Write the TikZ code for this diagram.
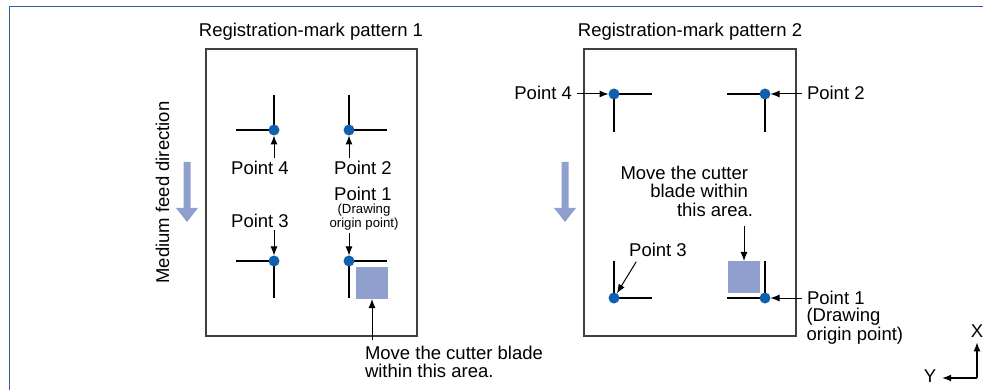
\documentclass[tikz,border=0pt]{standalone}
\usepackage{fontspec}
\setmainfont{Liberation Sans}
\usetikzlibrary{arrows.meta}
\definecolor{dotblue}{RGB}{16,96,176}
\definecolor{areablue}{RGB}{143,160,206}
\definecolor{framebl}{RGB}{40,96,168}
\begin{document}
\begin{tikzpicture}[x=1pt,y=-1pt,
  lbl/.style={font=\fontsize{18.5}{18.5}\selectfont, inner sep=0pt, outer sep=0pt},
  smalllbl/.style={font=\fontsize{13.2}{14}\selectfont, inner sep=0pt, outer sep=0pt},
  regline/.style={line width=1.8pt, black},
  dotn/.style={circle, fill=dotblue, minimum size=11pt, inner sep=0pt, outer sep=0pt},
  ptr/.style={-{Latex[length=9pt,width=7pt]}, line width=1pt},
  area/.style={fill=areablue, draw=none, minimum width=32pt, minimum height=32pt, inner sep=0pt, outer sep=0pt},
  paper/.style={draw=black!75, line width=1.3pt},
  feed/.style={fill=areablue, draw=none},
  outerframe/.style={draw=framebl, line width=1pt}
]
\useasboundingbox (0,0) rectangle (983,390);
\draw[outerframe] (9,390) -- (9,7) -- (983,7);

% ---------- Pattern 1 ----------
\draw[paper] (206,49) rectangle (417,336);
\node[lbl] (t1) at (311,32) {Registration-mark pattern 1};
\coordinate (c14) at (274,130);
\coordinate (c12) at (349,130);
\coordinate (c13) at (274,261);
\coordinate (c11) at (349,261);
\draw[regline] (236,130) -- (c14) -- (274,95);
\draw[regline] (387,130) -- (c12) -- (349,95);
\draw[regline] (236,261) -- (c13) -- (274,298);
\draw[regline] (387,261) -- (c11) -- (349,298);
\node[area] (sq1) at (372,283) {};
\node[dotn] (p14) at (c14) {};
\node[dotn] (p12) at (c12) {};
\node[dotn] (p13) at (c13) {};
\node[dotn] (p11) at (c11) {};
\node[lbl] (l14) at (260,167.5) {Point 4};
\node[lbl] (l12) at (363,167.5) {Point 2};
\node[lbl] (l13) at (260,220.5) {Point 3};
\node[lbl] (l11) at (363,193.5) {Point 1};
\node[smalllbl] (l11b) at (364,210) {(Drawing};
\node[smalllbl] (l11c) at (364,224) {origin point)};
\draw[ptr, shorten <=3pt] (p14 |- l14.north) -- (p14);
\draw[ptr, shorten <=3pt] (p12 |- l12.north) -- (p12);
\draw[ptr, shorten <=3pt] (p13 |- l13.south) -- (p13);
\draw[ptr, shorten <=3pt] (p11 |- l11c.south) -- (p11);
\node[lbl, anchor=north west, align=left] (a1t) at (365,346) {Move the cutter blade\\within this area.};
\draw[ptr, shorten <=6pt] (sq1.south |- a1t.north) -- (sq1.south);
\node[lbl, rotate=90] (feedt) at (162.5,192.5) {Medium feed direction};
\fill[feed] (183.5,162) -- (190.5,162) -- (190.5,208) -- (198,208) -- (187,222) -- (176,208) -- (183.5,208) -- cycle;

% ---------- Pattern 2 ----------
\draw[paper] (584,49) rectangle (796,336);
\node[lbl] (t2) at (690,32) {Registration-mark pattern 2};
\coordinate (c24) at (614,94);
\coordinate (c22) at (765,94);
\coordinate (c23) at (614,298);
\coordinate (c21) at (765,298);
\draw[regline] (652,94) -- (c24) -- (614,132);
\draw[regline] (727,94) -- (c22) -- (765,132);
\draw[regline] (652,298) -- (c23) -- (614,261);
\draw[regline] (727,298) -- (c21) -- (765,261);
\node[area] (sq2) at (744,277) {};
\node[dotn] (p24) at (c24) {};
\node[dotn] (p22) at (c22) {};
\node[dotn] (p23) at (c23) {};
\node[dotn] (p21) at (c21) {};
\node[lbl, anchor=east] (l24) at (572,93) {Point 4};
\node[lbl, anchor=west] (l22) at (807,93) {Point 2};
\node[lbl] (l23) at (658,250) {Point 3};
\node[lbl, anchor=west] (l21) at (807,298) {Point 1};
\node[lbl, anchor=west] (l21b) at (806.5,316.5) {(Drawing};
\node[lbl, anchor=west] (l21c) at (806.5,336) {origin point)};
\draw[ptr, shorten <=5pt] (l24.east |- p24) -- (p24);
\draw[ptr, shorten <=5pt] (l22.west |- p22) -- (p22);
\draw[ptr, shorten <=5pt] (l21.west |- p21) -- (p21);
\draw[ptr] ([xshift=7pt,yshift=-5pt]l23.south west) -- (p23);
\node[lbl, anchor=north east, align=right] (a2t) at (748,166) {Move the cutter\\blade within\\this area\rlap{.}};
\draw[ptr, shorten <=9pt] (sq2.north |- a2t.south) -- (sq2.north);
\fill[feed] (561.5,162) -- (568.5,162) -- (568.5,208) -- (576,208) -- (565,222) -- (554,208) -- (561.5,208) -- cycle;

% ---------- Axes ----------
\coordinate (ax0) at (977,378);
\node[lbl] (axx) at (977,331) {X};
\node[lbl] (axy) at (930,376) {Y};
\draw[ptr, line width=1.3pt, shorten >=5pt] (ax0) -- (axx);
\draw[ptr, line width=1.3pt, shorten >=6pt] (ax0) -- (axy.east |- ax0);
\end{tikzpicture}
\end{document}
